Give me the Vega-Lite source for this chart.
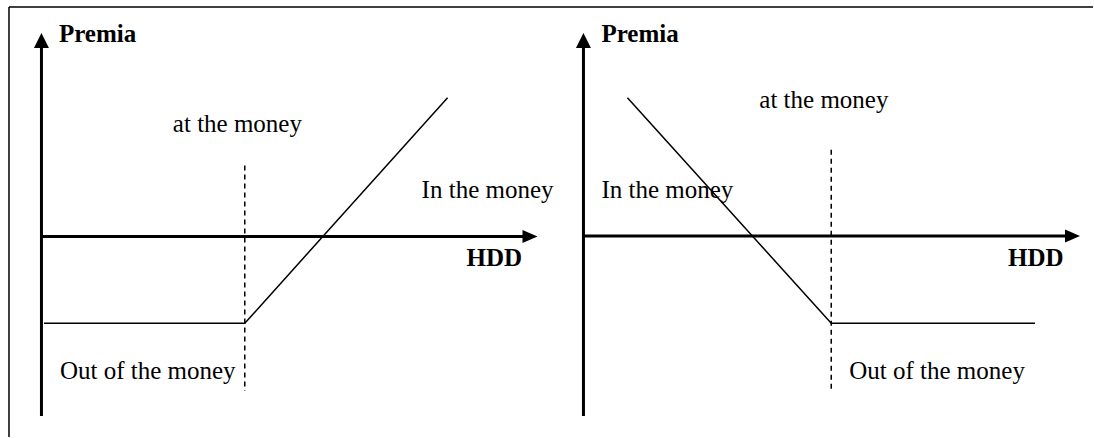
{
  "$schema": "https://vega.github.io/schema/vega-lite/v6.json",
  "width": 1094,
  "height": 438,
  "autosize": {"type": "fit", "contains": "padding"},
  "padding": 0,
  "background": "white",
  "config": {"view": {"stroke": null}},
  "datasets": {
    "segments": [
      {"kind": "border", "x": 9, "y": 7, "x2": 1094, "y2": 7},
      {"kind": "border", "x": 9, "y": 7, "x2": 9, "y2": 438},
      {"kind": "axis", "x": 41.5, "y": 46, "x2": 41.5, "y2": 417},
      {"kind": "axis", "x": 41, "y": 237, "x2": 525, "y2": 237},
      {"kind": "axis", "x": 584, "y": 46, "x2": 584, "y2": 417},
      {"kind": "axis", "x": 584, "y": 236.5, "x2": 1068, "y2": 236.5},
      {"kind": "dash", "x": 245, "y": 166, "x2": 245, "y2": 392},
      {"kind": "dash", "x": 832, "y": 150, "x2": 832, "y2": 393}
    ],
    "payoff": [
      {"panel": "call", "seq": 1, "x": 44, "y": 324},
      {"panel": "call", "seq": 2, "x": 245, "y": 324},
      {"panel": "call", "seq": 3, "x": 448, "y": 98},
      {"panel": "put", "seq": 1, "x": 628, "y": 98},
      {"panel": "put", "seq": 2, "x": 832, "y": 324},
      {"panel": "put", "seq": 3, "x": 1036, "y": 324}
    ],
    "arrows": [
      {"dir": "up", "x": 41.5, "y": 40.5},
      {"dir": "up", "x": 584, "y": 40.5},
      {"dir": "right", "x": 530.5, "y": 237},
      {"dir": "right", "x": 1073.5, "y": 236.5}
    ],
    "labels": [
      {"style": "bold", "text": "Premia", "x": 59, "y": 42},
      {"style": "bold", "text": "Premia", "x": 602, "y": 42},
      {"style": "bold", "text": "HDD", "x": 467, "y": 267},
      {"style": "bold", "text": "HDD", "x": 1009, "y": 267},
      {"style": "normal", "text": "at the money", "x": 173, "y": 132},
      {"style": "normal", "text": "at the money", "x": 760, "y": 108},
      {"style": "normal", "text": "In the money", "x": 422, "y": 198},
      {"style": "normal", "text": "In the money", "x": 602, "y": 198},
      {"style": "normal", "text": "Out of the money", "x": 60, "y": 380},
      {"style": "normal", "text": "Out of the money", "x": 850, "y": 380}
    ]
  },
  "layer": [
    {
      "data": {"name": "segments"},
      "transform": [{"filter": "datum.kind == 'border'"}],
      "mark": {"type": "rule", "color": "black", "strokeWidth": 1.5},
      "encoding": {
        "x": {"field": "x", "type": "quantitative", "scale": {"domain": [0, 1094], "nice": false, "zero": false}, "axis": null},
        "y": {"field": "y", "type": "quantitative", "scale": {"domain": [0, 438], "nice": false, "zero": false, "reverse": true}, "axis": null},
        "x2": {"field": "x2"},
        "y2": {"field": "y2"}
      }
    },
    {
      "data": {"name": "segments"},
      "transform": [{"filter": "datum.kind == 'axis'"}],
      "mark": {"type": "rule", "color": "black", "strokeWidth": 3},
      "encoding": {
        "x": {"field": "x", "type": "quantitative", "axis": null},
        "y": {"field": "y", "type": "quantitative", "axis": null},
        "x2": {"field": "x2"},
        "y2": {"field": "y2"}
      }
    },
    {
      "data": {"name": "segments"},
      "transform": [{"filter": "datum.kind == 'dash'"}],
      "mark": {"type": "rule", "color": "black", "strokeWidth": 1.5, "strokeDash": [5, 4]},
      "encoding": {
        "x": {"field": "x", "type": "quantitative", "axis": null},
        "y": {"field": "y", "type": "quantitative", "axis": null},
        "x2": {"field": "x2"},
        "y2": {"field": "y2"}
      }
    },
    {
      "data": {"name": "payoff"},
      "mark": {"type": "line", "color": "black", "strokeWidth": 1.5},
      "encoding": {
        "x": {"field": "x", "type": "quantitative", "axis": null},
        "y": {"field": "y", "type": "quantitative", "axis": null},
        "detail": {"field": "panel"},
        "order": {"field": "seq"}
      }
    },
    {
      "data": {"name": "arrows"},
      "transform": [{"filter": "datum.dir == 'up'"}],
      "mark": {"type": "point", "shape": "M0,-1L1,1L-1,1Z", "size": 225, "filled": true, "color": "black", "opacity": 1, "strokeWidth": 0},
      "encoding": {
        "x": {"field": "x", "type": "quantitative", "axis": null},
        "y": {"field": "y", "type": "quantitative", "axis": null}
      }
    },
    {
      "data": {"name": "arrows"},
      "transform": [{"filter": "datum.dir == 'right'"}],
      "mark": {"type": "point", "shape": "M1,0L-1,0.87L-1,-0.87Z", "size": 225, "filled": true, "color": "black", "opacity": 1, "strokeWidth": 0},
      "encoding": {
        "x": {"field": "x", "type": "quantitative", "axis": null},
        "y": {"field": "y", "type": "quantitative", "axis": null}
      }
    },
    {
      "data": {"name": "labels"},
      "transform": [{"filter": "datum.style == 'normal'"}],
      "mark": {"type": "text", "align": "left", "baseline": "alphabetic", "font": "Liberation Serif", "fontSize": 25, "color": "black"},
      "encoding": {
        "x": {"field": "x", "type": "quantitative", "axis": null},
        "y": {"field": "y", "type": "quantitative", "axis": null},
        "text": {"field": "text"}
      }
    },
    {
      "data": {"name": "labels"},
      "transform": [{"filter": "datum.style == 'bold'"}],
      "mark": {"type": "text", "align": "left", "baseline": "alphabetic", "font": "Liberation Serif", "fontSize": 25, "fontWeight": "bold", "color": "black"},
      "encoding": {
        "x": {"field": "x", "type": "quantitative", "axis": null},
        "y": {"field": "y", "type": "quantitative", "axis": null},
        "text": {"field": "text"}
      }
    }
  ]
}
